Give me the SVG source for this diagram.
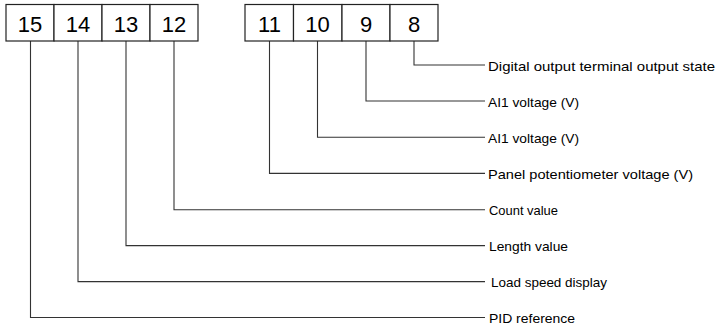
<svg xmlns="http://www.w3.org/2000/svg" width="719" height="330" viewBox="0 0 719 330">
<style>
.box{fill:#fff;stroke:#222;stroke-width:1.2}
.num{font-family:"Liberation Sans",Arial,sans-serif;font-size:22px;fill:#000;text-anchor:middle}
.lbl{font-family:"Liberation Sans",Arial,sans-serif;font-size:13px;fill:#000}
.con{fill:none;stroke:#333;stroke-width:1.1}
</style>
<rect width="719" height="330" fill="#fff"/>
<g id="connectors">
<polyline class="con" points="414,41 414,65 485,65"/>
<polyline class="con" points="366,41 366,101 485,101"/>
<polyline class="con" points="317.5,41 317.5,137.2 485,137.2"/>
<polyline class="con" points="269.5,41 269.5,173.4 485,173.4"/>
<polyline class="con" points="174,41 174,209.7 485,209.7"/>
<polyline class="con" points="126,41 126,245.6 485,245.6"/>
<polyline class="con" points="78,41 78,281.6 485,281.6"/>
<polyline class="con" points="30.5,41 30.5,317.5 485,317.5"/>
</g>
<g id="bit15"><rect class="box" x="6" y="4.5" width="48" height="36.5"/><text class="num" x="30" y="31.5">15</text></g>
<g id="bit14"><rect class="box" x="54" y="4.5" width="48" height="36.5"/><text class="num" x="78" y="31.5">14</text></g>
<g id="bit13"><rect class="box" x="102" y="4.5" width="48" height="36.5"/><text class="num" x="126" y="31.5">13</text></g>
<g id="bit12"><rect class="box" x="150" y="4.5" width="48" height="36.5"/><text class="num" x="174" y="31.5">12</text></g>
<g id="bit11"><rect class="box" x="245" y="4.5" width="48.5" height="36.5"/><text class="num" x="269.5" y="31.5">11</text></g>
<g id="bit10"><rect class="box" x="293.5" y="4.5" width="48.5" height="36.5"/><text class="num" x="317.5" y="31.5">10</text></g>
<g id="bit9"><rect class="box" x="342" y="4.5" width="48" height="36.5"/><text class="num" x="366" y="31.5">9</text></g>
<g id="bit8"><rect class="box" x="390" y="4.5" width="48" height="36.5"/><text class="num" x="414" y="31.5">8</text></g>
<g id="labels">
<text class="lbl" x="488" y="70.5" textLength="227" lengthAdjust="spacingAndGlyphs">Digital output terminal output state</text>
<text class="lbl" x="488" y="106.5" textLength="91" lengthAdjust="spacingAndGlyphs">AI1 voltage (V)</text>
<text class="lbl" x="488" y="142.7" textLength="91" lengthAdjust="spacingAndGlyphs">AI1 voltage (V)</text>
<text class="lbl" x="488" y="178.9" textLength="205" lengthAdjust="spacingAndGlyphs">Panel potentiometer voltage (V)</text>
<text class="lbl" x="489" y="215.2" textLength="69" lengthAdjust="spacingAndGlyphs">Count value</text>
<text class="lbl" x="489" y="251.1" textLength="79" lengthAdjust="spacingAndGlyphs">Length value</text>
<text class="lbl" x="491" y="287.1" textLength="116" lengthAdjust="spacingAndGlyphs">Load speed display</text>
<text class="lbl" x="489" y="323" textLength="86" lengthAdjust="spacingAndGlyphs">PID reference</text>
</g>
</svg>
